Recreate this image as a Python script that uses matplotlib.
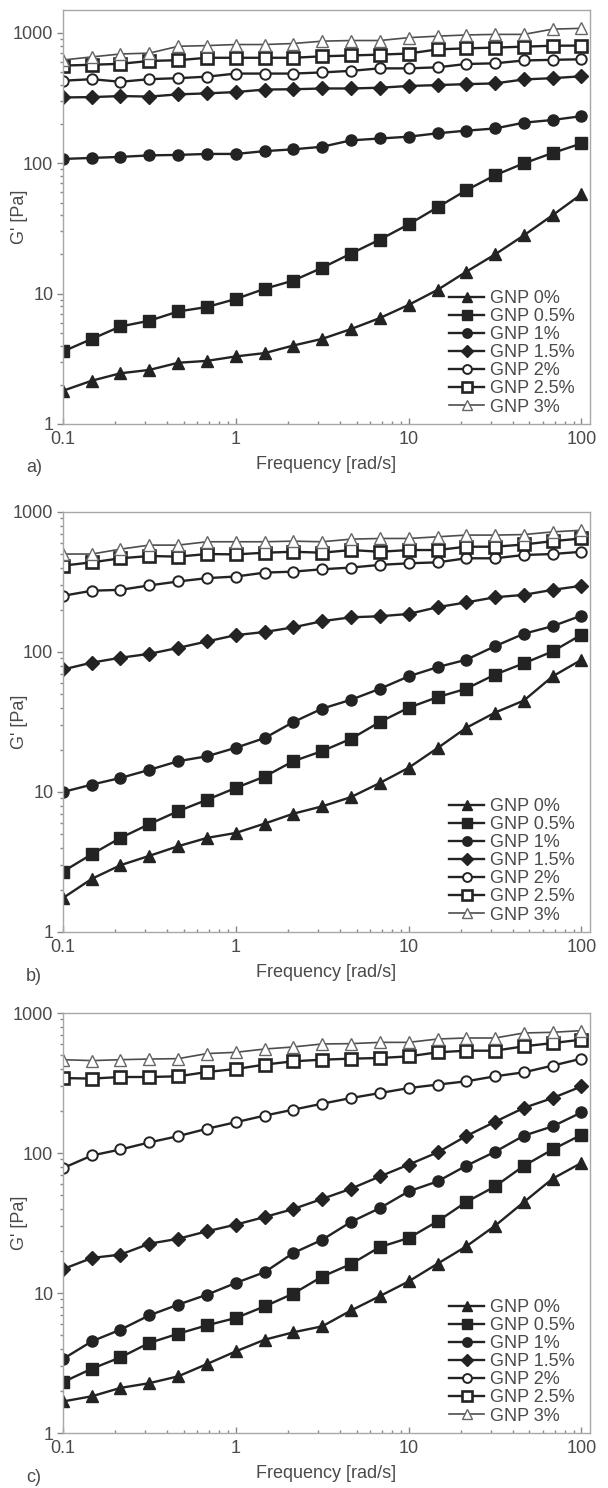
import numpy as np
import matplotlib.pyplot as plt
from matplotlib.ticker import FixedLocator, FuncFormatter, LogLocator, NullFormatter

plt.rcParams['font.family'] = ['Liberation Sans', 'DejaVu Sans']

# frequency sweep, 6 points per decade
freq = [0.1, 0.147, 0.215, 0.316, 0.464, 0.681, 1.0, 1.47, 2.15, 3.16,
        4.64, 6.81, 10.0, 14.7, 21.5, 31.6, 46.4, 68.1, 100.0]

labels = ['GNP 0%', 'GNP 0.5%', 'GNP 1%', 'GNP 1.5%', 'GNP 2%', 'GNP 2.5%', 'GNP 3%']
panel_names = ['a)', 'b)', 'c)']

# panel a
a_0 = [1.8, 2.15, 2.45, 2.6, 2.95, 3.05, 3.3, 3.5, 4.0, 4.5,
       5.35, 6.5, 8.2, 10.7, 14.7, 20.0, 28.0, 40.0, 58.0]
a_05 = [3.6, 4.5, 5.6, 6.2, 7.3, 7.9, 9.1, 10.9, 12.6, 15.8,
        20.3, 26.0, 34.0, 46.0, 62.0, 81.0, 100.0, 120.0, 142.0]
a_1 = [108, 110, 112, 115, 116, 118, 118, 124, 128, 134,
       150, 155, 160, 170, 178, 185, 205, 215, 230]
a_15 = [320, 322, 328, 325, 338, 344, 352, 368, 370, 375,
        375, 380, 392, 398, 405, 410, 440, 450, 465]
a_2 = [430, 442, 422, 442, 450, 462, 488, 488, 488, 498,
       512, 535, 535, 545, 578, 585, 615, 622, 628]
a_25 = [562, 570, 580, 610, 618, 645, 645, 645, 645, 662,
        672, 682, 695, 748, 762, 772, 785, 798, 800]
a_3 = [620, 655, 690, 700, 790, 800, 815, 815, 830, 865,
       875, 875, 920, 945, 965, 975, 975, 1070, 1085]

# panel b
b_0 = [1.75, 2.4, 3.0, 3.5, 4.1, 4.7, 5.1, 5.95, 7.0, 7.9,
       9.2, 11.6, 14.9, 20.6, 28.7, 36.9, 45.0, 67.0, 88.0]
b_05 = [2.7, 3.6, 4.7, 5.9, 7.3, 8.8, 10.7, 12.9, 16.6, 19.6,
        24.0, 31.6, 40.0, 47.6, 54.6, 69.0, 83.0, 101.0, 133.0]
b_1 = [10.0, 11.3, 12.6, 14.4, 16.6, 18.0, 20.7, 24.3, 31.6, 39.4,
       45.6, 54.6, 67.0, 78.0, 88.0, 110.0, 135.0, 153.0, 182.0]
b_15 = [75, 84, 91, 97, 107, 119, 132, 139, 150, 166,
        177, 180, 187, 209, 226, 246, 256, 278, 297]
b_2 = [252, 274, 278, 299, 319, 337, 346, 369, 375, 390,
       401, 419, 430, 437, 467, 467, 493, 501, 520]
b_25 = [414, 437, 467, 485, 480, 501, 498, 512, 520, 512,
        535, 520, 535, 535, 565, 565, 586, 619, 647]
b_3 = [501, 501, 543, 580, 580, 613, 613, 613, 619, 613,
       640, 647, 647, 665, 684, 684, 690, 721, 741]

# panel c
c_0 = [1.68, 1.83, 2.1, 2.27, 2.54, 3.11, 3.83, 4.64, 5.24, 5.78,
       7.5, 9.5, 12.1, 16.2, 21.5, 30.2, 44.6, 65.6, 85.0]
c_05 = [2.31, 2.88, 3.47, 4.4, 5.12, 5.88, 6.63, 8.03, 9.9, 13.1,
        16.1, 21.3, 24.7, 32.5, 44.6, 57.7, 81.0, 106.0, 135.0]
c_1 = [3.38, 4.52, 5.47, 6.93, 8.26, 9.73, 11.8, 14.1, 19.3, 24.0,
       32.2, 40.4, 53.2, 62.7, 81.0, 102.0, 133.0, 155.0, 195.0]
c_15 = [14.8, 17.8, 18.8, 22.5, 24.4, 27.6, 30.8, 34.9, 39.8, 47.0,
        55.6, 68.0, 82.6, 101.0, 132.0, 167.0, 210.0, 247.0, 299.0]
c_2 = [78, 96, 106, 119, 132, 149, 166, 185, 204, 225,
       247, 268, 291, 308, 325, 353, 377, 421, 472]
c_25 = [343, 340, 349, 349, 353, 379, 398, 428, 452, 464,
        472, 477, 490, 524, 538, 538, 578, 610, 645]
c_3 = [464, 457, 464, 469, 472, 513, 524, 553, 572, 601,
       604, 617, 617, 652, 663, 663, 720, 728, 748]

panels = [[a_0, a_05, a_1, a_15, a_2, a_25, a_3],
          [b_0, b_05, b_1, b_15, b_2, b_25, b_3],
          [c_0, c_05, c_1, c_15, c_2, c_25, c_3]]

dark = '#232323'
grey_txt = '#4a4a4a'
styles = [
    dict(marker='^', ms=8.5, mfc=dark, mec=dark, color=dark, lw=1.7),
    dict(marker='s', ms=8, mfc=dark, mec=dark, color=dark, lw=1.7),
    dict(marker='o', ms=8, mfc=dark, mec=dark, color=dark, lw=1.7),
    dict(marker='D', ms=7, mfc=dark, mec=dark, color=dark, lw=1.7),
    dict(marker='o', ms=7.5, mfc='white', mec=dark, mew=1.4, color=dark, lw=1.7),
    dict(marker='s', ms=8, mfc='white', mec=dark, mew=1.9, color=dark, lw=1.7),
    dict(marker='^', ms=8, mfc='white', mec='#666666', mew=1.0, color='#4d4d4d', lw=1.2),
]

fig = plt.figure(figsize=(6.08, 14.88), dpi=100)
H = 1488.0
# (top px, bottom px, ylim top)
boxes = [(10, 424, 1500), (512, 932, 1000), (1013, 1433, 1000)]
left, right = 63, 590

for data, (top, bot, ytop), name in zip(panels, boxes, panel_names):
    ax = fig.add_axes([left / 608, 1 - bot / H, (right - left) / 608, (bot - top) / H])
    for vals, st, lab in zip(data, styles, labels):
        ax.plot(freq, vals, label=lab, **st)
    ax.set_xscale('log')
    ax.set_yscale('log')
    ax.set_xlim(0.1, 112)
    ax.set_ylim(1, ytop)

    ax.xaxis.set_major_locator(FixedLocator([0.1, 1, 10, 100]))
    ax.yaxis.set_major_locator(FixedLocator([1, 10, 100, 1000]))
    fmt = FuncFormatter(lambda v, p: '%g' % v)
    ax.xaxis.set_major_formatter(fmt)
    ax.yaxis.set_major_formatter(fmt)
    ax.xaxis.set_minor_locator(LogLocator(base=10, subs=np.arange(2, 10), numticks=20))
    ax.yaxis.set_minor_locator(LogLocator(base=10, subs=np.arange(2, 10), numticks=20))
    ax.xaxis.set_minor_formatter(NullFormatter())
    ax.yaxis.set_minor_formatter(NullFormatter())

    ax.tick_params(axis='y', which='major', direction='out', length=4, width=1,
                   color='#888888', labelsize=13, labelcolor=grey_txt, pad=3)
    ax.tick_params(axis='y', which='minor', direction='out', length=2, width=1,
                   color='#888888')
    ax.tick_params(axis='x', which='major', direction='in', length=4, width=1,
                   color='#888888', labelsize=13, labelcolor=grey_txt, pad=5)
    ax.tick_params(axis='x', which='minor', direction='in', length=2, width=1,
                   color='#888888')
    for sp in ax.spines.values():
        sp.set_color('#a8a8a8')
        sp.set_linewidth(1.0)

    ax.set_ylabel("G' [Pa]", fontsize=13, color=grey_txt)
    ax.yaxis.set_label_coords(-0.066, 0.5)
    ax.set_xlabel('Frequency [rad/s]', fontsize=13, color=grey_txt, labelpad=6)
    ax.text(-0.055, -0.105, name, transform=ax.transAxes, fontsize=13,
            color=grey_txt, ha='center', va='center')

    ax.legend(loc='lower right', bbox_to_anchor=(0.995, -0.01), frameon=False,
              fontsize=13, labelspacing=0.06, handlelength=1.9, handletextpad=0.35,
              borderpad=0.2, markerscale=0.85, labelcolor=grey_txt)

fig.savefig('out.png', dpi=100)
